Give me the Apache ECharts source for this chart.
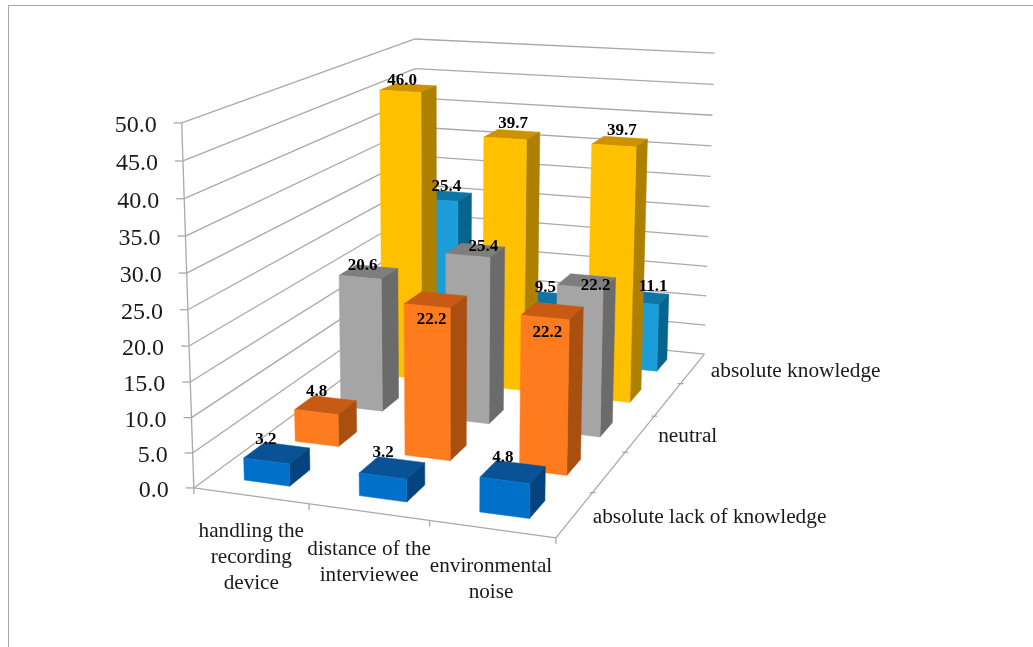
<!DOCTYPE html>
<html><head><meta charset="utf-8">
<style>html,body{margin:0;padding:0;background:#fff;overflow:hidden}
#frame{position:absolute;left:8px;top:5px;width:1025px;height:642px;border-left:1px solid #a6a6a6;border-top:1px solid #a6a6a6;box-sizing:border-box}
#c{position:absolute;left:0;top:0;width:1033px;height:647px}</style>
<script src="https://cdn.jsdelivr.net/npm/echarts@6/dist/echarts.min.js"></script>
</head><body><div id="frame"></div><div id="c"></div>
<script>
// ---- data ----
const categories = ['handling the\nrecording\ndevice', 'distance of the\ninterviewee', 'environmental\nnoise'];
const depthLabels = ['absolute lack of knowledge', '', 'neutral', '', 'absolute knowledge'];
const yTicks = [0, 5, 10, 15, 20, 25, 30, 35, 40, 45, 50];
const absoluteLack = [3.2, 3.2, 4.8];
const lack = [4.8, 22.2, 22.2];
const neutral = [20.6, 25.4, 22.2];
const knowledge = [46.0, 39.7, 39.7];
const absoluteKnowledge = [25.4, 9.5, 11.1];

// ---- style ----
const rows = [absoluteLack, lack, neutral, knowledge, absoluteKnowledge];
const faces = [
  {front:'#0070c9', top:'#0a5296', side:'#03437f'},
  {front:'#ff7c1e', top:'#c95a14', side:'#a94f10'},
  {front:'#a5a5a5', top:'#7e7e7e', side:'#6b6b6b'},
  {front:'#ffc000', top:'#cc9200', side:'#ad8000'},
  {front:'#1b9dd9', top:'#0f75a5', side:'#06648e'}
];
const labelNudge = [
  [[-11,-13],[-9,-15],[-10,-14]],
  [[-9,-14],[-4,20],[-5,22]],
  [[-6,-6],[8,-4],[9,4]],
  [[-6,-7],[1,-11],[2,-11]],
  [[1,-9],[3,-10],[10,-11]]
];
const FONT = '"Liberation Serif", serif';
const GRID = '#a9a9a9';
const PW = 300, PH = 500, NX = 3, NZ = 5, GAP = 0.2;

// camera calibrated to the reference view: [x,y,z in 0..1] -> screen
const anchors = [
  [0,0,0,194,488],[0,1,0,181.7,122.7],[1,0,0,555.7,538],[1,0,1,704.5,354],
  [1,1,1,714.7,53.3],[0,1,1,415,39],[0,0,1,416,325]
];
function solveCamera(){
  const n = 11, A = [...Array(n)].map(()=>Array(n+1).fill(0));
  const add = (r,b)=>{for(let i=0;i<n;i++){for(let j=0;j<n;j++)A[i][j]+=r[i]*r[j];A[i][n]+=r[i]*b;}};
  anchors.forEach(([x,y,z,u,v])=>{u/=1000;v/=1000;
    add([x,y,z,1,0,0,0,0,-u*x,-u*y,-u*z],u);
    add([0,0,0,0,x,y,z,1,-v*x,-v*y,-v*z],v);});
  for(let i=0;i<n;i++){let m=i;for(let k=i+1;k<n;k++)if(Math.abs(A[k][i])>Math.abs(A[m][i]))m=k;
    [A[i],A[m]]=[A[m],A[i]];
    for(let k=0;k<n;k++){if(k===i)continue;const f=A[k][i]/A[i][i];for(let j=i;j<=n;j++)A[k][j]-=f*A[i][j];}}
  return A.map((r,i)=>r[n]/r[i]);
}
const P = solveCamera();
function proj(x,y,z){
  const w = P[8]*x+P[9]*y+P[10]*z+1;
  return [1000*(P[0]*x+P[1]*y+P[2]*z+P[3])/w, 1000*(P[4]*x+P[5]*y+P[6]*z+P[7])/w];
}
// plot coordinates from the hidden axes -> screen
function view(px,py,depth){ return proj(px/PW, (PH-py)/PH, depth/NZ); }
const line = (a,b,w,c)=>({type:'line',shape:{x1:a[0],y1:a[1],x2:b[0],y2:b[1]},style:{stroke:c||GRID,lineWidth:w||1.3},silent:true});
const text = (x,y,t,size,extra)=>({type:'text',silent:true,style:Object.assign({x,y,text:t,fontFamily:FONT,fontSize:size,fill:'#1a1a1a'},extra)});
const poly = (pts,c)=>({type:'polygon',shape:{points:pts},style:{fill:c,stroke:c,lineWidth:0.5},silent:true});

function renderTick(params, api){
  const c = api.coord([0, api.value(1)]), v = api.value(1);
  const a = view(0,c[1],0), b = view(0,c[1],NZ), d = view(PW,c[1],NZ);
  return {type:'group',children:[
    line(a,b), line(b,d), line([a[0]-8,a[1]],a),
    text(a[0]-25,a[1]+3,v.toFixed(1),24,{align:'right',verticalAlign:'middle'})
  ]};
}
function renderFloor(params, api){
  const y0 = api.coord([0,0])[1], y1 = api.coord([0,50])[1];
  return {type:'group',children:[
    line(view(0,y0,0),view(0,y1,0)),
    line(view(0,y0,0),view(PW,y0,0)),
    line(view(PW,y0,0),view(PW,y0,NZ))
  ]};
}
function renderCategory(params, api){
  const i = api.value(0), c = api.coord([i,0]), hw = api.size([1,0])[0]/2;
  const mid = view(c[0],c[1],0), t0 = view(c[0]-hw,c[1],0), t1 = view(c[0]+hw,c[1],0);
  const kids = [line(t1,[t1[0],t1[1]+6])];
  if(i===0) kids.push(line(t0,[t0[0],t0[1]+6]));
  kids.push(text(mid[0]+(i===2?-1:0.5),mid[1]+(i===0?22:24),categories[i],21.2,{align:'center',verticalAlign:'top',lineHeight:26.3}));
  return {type:'group',children:kids};
}
function renderDepth(params, api){
  const j = params.dataIndex, y0 = api.coord([0,0])[1];
  const a = view(PW,y0,j+1), m = view(PW,y0,j+0.5);
  const kids = [];
  if(j<NZ-1) kids.push(line([a[0]-3,a[1]],[a[0]+3,a[1]],1.2));
  if(depthLabels[j]) kids.push(text(m[0]+18,m[1]+2.5,depthLabels[j],21.3,{align:'left',verticalAlign:'middle'}));
  return {type:'group',children:kids};
}
function renderBar(row){
  return function(params, api){
    const top = api.coord([api.value(0), api.value(1)]), base = api.coord([api.value(0),0]);
    const half = api.size([1,0])[0]*GAP, z0 = row+0.5-GAP, z1 = row+0.5+GAP;
    const x0 = top[0]-half, x1 = top[0]+half, yt = top[1], yb = base[1], f = faces[row];
    return {type:'group',children:[
      poly([view(x0,yt,z0),view(x1,yt,z0),view(x1,yt,z1),view(x0,yt,z1)],f.top),
      poly([view(x1,yt,z0),view(x1,yt,z1),view(x1,yb,z1),view(x1,yb,z0)],f.side),
      poly([view(x0,yt,z0),view(x1,yt,z0),view(x1,yb,z0),view(x0,yb,z0)],f.front)
    ]};
  };
}
function renderLabel(row){
  return function(params, api){
    const i = api.value(0), v = api.value(1), top = api.coord([i,v]);
    const p = view(top[0],top[1],row+0.5), n = labelNudge[row][i];
    return text(p[0]+n[0],p[1]+n[1],v.toFixed(1),17,{align:'center',verticalAlign:'middle',fontWeight:'bold',fill:'#000'});
  };
}
const custom = (data,renderItem,z)=>({type:'custom',coordinateSystem:'cartesian2d',data,renderItem,z,encode:{x:0,y:1},clip:false,silent:true,animation:false});
const catIdx = categories.map((_,i)=>i);
const series = [
  custom(yTicks.map(v=>[0,v]),renderTick,1),
  custom([[0,0]],renderFloor,1),
  custom(catIdx.map(i=>[i,0]),renderCategory,1),
  custom(depthLabels.map((_,j)=>[0,0]),renderDepth,1)
];
// back rows first so the nearer bars cover them
for(let r=rows.length-1;r>=0;r--) series.push(custom(rows[r].map((v,i)=>[i,v]),renderBar(r),2));
rows.forEach((vals,r)=>series.push(custom(vals.map((v,i)=>[i,v]),renderLabel(r),3)));

const chart = echarts.init(document.getElementById('c'),null,{renderer:'canvas'});
chart.setOption({
  animation:false,
  backgroundColor:'transparent',
  grid:{left:0,top:0,width:PW,height:PH,show:false},
  xAxis:{type:'category',data:categories,show:false},
  yAxis:{type:'value',min:0,max:50,interval:5,show:false},
  series
});
</script></body></html>
